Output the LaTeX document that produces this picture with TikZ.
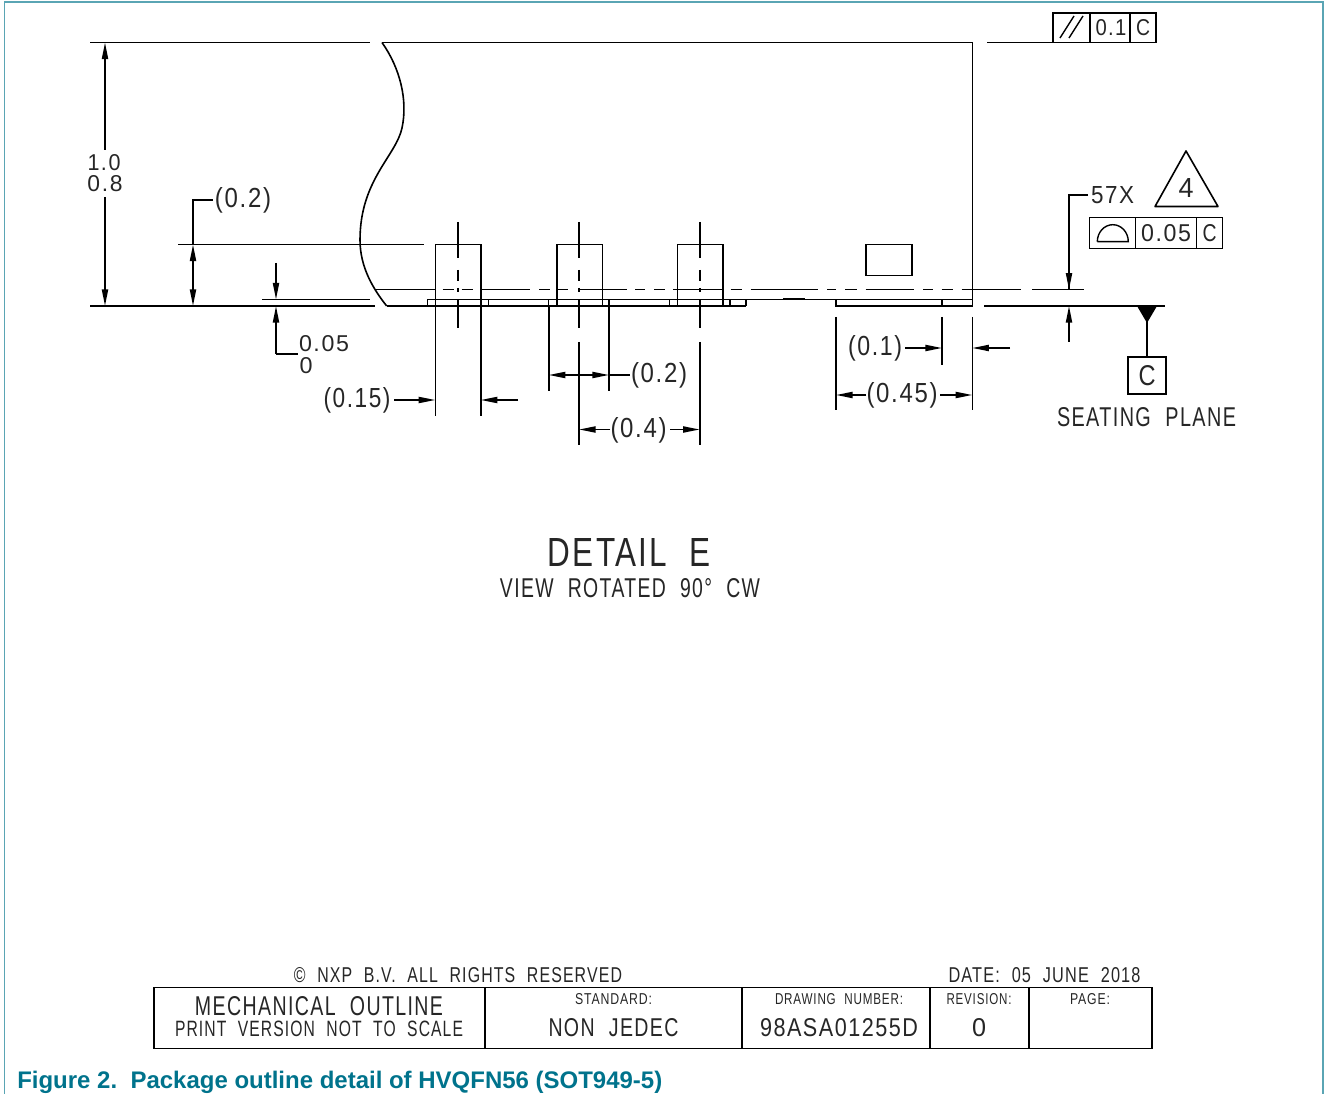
\documentclass[tikz,border=0pt]{standalone}
\usepackage{fontspec}
\usepackage{graphicx}
\setmainfont{Liberation Sans}[WordSpace=2.1,LetterSpace=7]
\newfontfamily\capfont{Liberation Sans}
\usetikzlibrary{arrows.meta}
\newlength\pxu \setlength\pxu{.75pt}
\definecolor{frameteal}{RGB}{90,165,180}
\definecolor{captionteal}{RGB}{0,115,140}
\tikzset{
  ln/.style={line width=1.2pt,black},
  thin ln/.style={line width=1.05pt,black},
  tip/.tip={Triangle[length=12.5pt,width=4.6pt]},
  dimto/.style={ln,-{tip}},
  dimboth/.style={ln,{tip}-{tip}},
  lbl/.style={inner sep=0pt,outer sep=0pt,anchor=center,text depth=0pt,text=black!85},
  frameln/.style={line width=.9pt,frameteal},
}
% name, x, y, width, capheight, text
\newcommand\lab[6]{\node[lbl,text height=#5\pxu] (#1) at (#2,#3) {\resizebox{#4\pxu}{#5\pxu}{#6}};}
\begin{document}
\begin{tikzpicture}[x=.75pt,y=-.75pt]
\useasboundingbox (0,0) rectangle (1328,1094);
% frame
\draw[frameln] (4.5,1094) -- (4.5,2) -- (1323,2) -- (1323,1094);
% body outline with break
\draw[ln] (90,42.5) -- (370,42.5);
\draw[ln] (382,42.5) -- (972.3,42.5) -- (972.3,306) -- (836,306) -- (836,299.5);
\draw[ln] (382,42.5) .. controls (400,68) and (408,100) .. (402,128)
  .. controls (396,156) and (360,180) .. (360,240)
  .. controls (360,268) and (374,290) .. (386.7,306);
\draw[ln] (987,42.5) -- (1053,42.5);
% feature control frame top
\draw[thin ln] (1053,42.5) rectangle (1156,13);
\draw[thin ln] (1090,13) -- (1090,42.5) (1130,13) -- (1130,42.5);
\draw[thin ln] (1060,38) -- (1074,16) (1069,38) -- (1083,16);
\lab{t01}{1111}{28}{31}{16}{0.1}
\lab{tc1}{1143}{28}{14}{16}{C}
% left dimension lines
\draw[ln] (90,306) -- (375,306);
\draw[ln] (178,244.5) -- (424,244.5);
\draw[ln] (262,299.5) -- (370,299.5);
% 1.0/0.8
\draw[dimto] (105,150) -- (105,42.5);
\draw[dimto] (105,197) -- (105,306);
\lab{d10}{104}{162.5}{33}{16}{1.0}
\lab{d08}{105}{183.5}{35}{16}{0.8}
% (0.2) left
\draw[dimboth] (193,244.5) -- (193,306);
\draw[ln] (193,244.5) -- (193,200) -- (213,200);
\lab{d02a}{243}{198}{56}{20}{(0.2)}
% 0.05 / 0
\draw[dimto] (276,263) -- (276,299.5);
\draw[dimto] (276,354) -- (276,306);
\draw[ln] (276,354) -- (298,354);
\lab{d005}{324}{344}{50}{16}{0.05}
\lab{d0}{306}{366}{13}{16}{0}
% dashed line (as drawn: long and short segments)
\draw[ln] (375,289.7) -- (435.3,289.7) (442.7,289.7) -- (454,289.7) (461.7,289.7) -- (472.7,289.7)
 (480.7,289.7) -- (530,289.7) (539,289.7) -- (550,289.7) (556.7,289.7) -- (568,289.7)
 (579,289.7) -- (626.7,289.7) (635,289.7) -- (645,289.7) (654,289.7) -- (665,289.7)
 (673.3,289.7) -- (722,289.7) (730.7,289.7) -- (741.7,289.7) (750.7,289.7) -- (818,289.7)
 (827,289.7) -- (836,289.7) (845,289.7) -- (857,289.7) (865.7,289.7) -- (914,289.7)
 (923,289.7) -- (933,289.7) (941.7,289.7) -- (952.7,289.7) (961.7,289.7) -- (1021,289.7)
 (1032,289.7) -- (1084,289.7);
% terminals
\draw[ln] (386.7,306) -- (745.7,306);
\draw[ln] (427.3,299.5) -- (745.7,299.5) -- (745.7,306);
\draw[ln] (745.7,299.5) -- (972.3,299.5);
\draw[line width=1.5pt] (783,299.5) -- (805,299.5);
\draw[ln] (942,299.5) -- (942,306);
\foreach \a/\b in {427.3/488.3,548.3/609,669.3/730}{\draw[ln] (\a,299.5) -- (\a,306) (\b,299.5) -- (\b,306);}
% leads
\foreach \a/\b in {435.3/480.7,556.7/602.3,677.3/723}{\draw[ln] (\a,306) -- (\a,244.5) -- (\b,244.5) -- (\b,306);}
% center lines
\foreach \c in {458,579,699.7}{\draw[ln] (\c,222) -- (\c,258) (\c,270) -- (\c,281) (\c,288) -- (\c,292) (\c,300) -- (\c,328);}
% small rectangle
\draw[ln] (866,244.5) rectangle (911.7,275.5);
% seating plane line and datum
\draw[ln] (984,306) -- (1165,306);
\fill[black] (1137,306) -- (1157,306) -- (1147,323) -- cycle;
\draw[ln] (1147,320) -- (1147,357);
\draw[ln] (1128,357) rectangle (1166,394);
\lab{dc}{1147}{376}{17}{20}{C}
\lab{seat}{1146.5}{417}{179}{19}{SEATING PLANE}
% (0.15)
\draw[ln] (435.3,306) -- (435.3,416) (480.7,306) -- (480.7,416);
\draw[dimto] (394,400) -- (435.3,400);
\draw[dimto] (518,400) -- (480.7,400);
\lab{d015}{357}{398}{67}{20}{(0.15)}
% (0.2) pitch
\draw[ln] (548.7,306) -- (548.7,391) (609,306) -- (609,391);
\draw[dimboth] (548.7,375) -- (609,375);
\draw[ln] (609,375) -- (630,375);
\lab{d02b}{659}{373}{56}{20}{(0.2)}
% (0.4)
\draw[ln] (579,342) -- (579,445) (699.7,342) -- (699.7,445);
\draw[dimto] (610,429.5) -- (579,429.5);
\draw[dimto] (670,429.5) -- (699.7,429.5);
\lab{d04}{638.5}{428}{56}{20}{(0.4)}
% (0.1)/(0.45)
\draw[ln] (836,317) -- (836,410) (942,317) -- (942,365) (972.3,317) -- (972.3,410);
\draw[dimto] (905,348) -- (942,348);
\draw[dimto] (1010,348) -- (972.3,348);
\lab{d01}{875}{346}{54}{20}{(0.1)}
\draw[dimto] (866,395) -- (836,395);
\draw[dimto] (940,395) -- (972.3,395);
\lab{d045}{902}{393}{71}{20}{(0.45)}
% 57X leader and profile
\draw[ln] (1088,195) -- (1069,195) -- (1069,289.7);
\draw[dimto] (1069,240) -- (1069,289.7);
\draw[dimto] (1069,342) -- (1069,306);
\lab{x57}{1112.5}{195.5}{43}{17}{57X}
\draw[ln,line join=round] (1186,151) -- (1155,206.5) -- (1218,206.5) -- cycle;
\lab{t4}{1186}{188}{15}{19}{4}
\draw[thin ln] (1089.5,217.7) rectangle (1222.7,248.3);
\draw[thin ln] (1135.3,217.7) -- (1135.3,248.3) (1196.7,217.7) -- (1196.7,248.3);
\draw[thin ln] (1097.3,241.7) -- (1128.3,241.7) arc[start angle=0,end angle=180,x radius=15.5,y radius=-17];
\lab{t005}{1166}{233.5}{50}{17}{0.05}
\lab{tc2}{1209.5}{233.5}{14}{17}{C}
% detail title
\lab{det}{629.5}{552}{163}{28}{DETAIL E}
\lab{view}{630}{588}{260}{19}{VIEW ROTATED 90\textdegree{} CW}
% title block
\lab{copy}{458}{975}{328}{15}{\textcopyright{} NXP B.V. ALL RIGHTS RESERVED}
\lab{date}{1044.5}{975}{192}{15}{DATE: 05 JUNE 2018}
\draw[ln] (154,987.5) rectangle (1152,1048.5);
\foreach \v in {485,742,930,1029}{\draw[ln] (\v,987.5) -- (\v,1048.5);}
\lab{mech}{319}{1005.5}{248}{19}{MECHANICAL OUTLINE}
\lab{print}{319}{1028.5}{288}{15.5}{PRINT VERSION NOT TO SCALE}
\lab{std}{613.5}{999}{77}{11}{STANDARD:}
\lab{non}{613.5}{1027}{130}{18}{NON JEDEC}
\lab{dwg}{839}{999}{128}{11}{DRAWING NUMBER:}
\lab{num}{839}{1027.5}{158}{18}{98ASA01255D}
\lab{rev}{979}{999}{65}{11}{REVISION:}
\lab{zero}{979}{1027}{14}{18}{0}
\lab{pg}{1090}{999}{40}{11}{PAGE:}
% caption
\node[inner sep=0pt,anchor=base west,text=captionteal] (cap) at (17,1088)
  {\resizebox{645\pxu}{!}{\capfont\bfseries\fontsize{17.5pt}{20pt}\selectfont Figure 2.\ \ Package outline detail of HVQFN56 (SOT949-5)}};
\end{tikzpicture}
\end{document}
